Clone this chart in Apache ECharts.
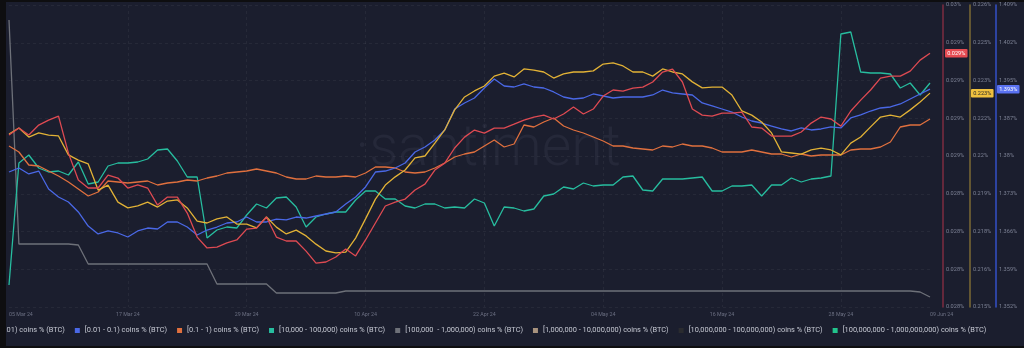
<!DOCTYPE html>
<html><head><meta charset="utf-8">
<script src="https://cdn.jsdelivr.net/npm/echarts@6/dist/echarts.min.js"></script>
<style>
html,body{margin:0;padding:0;background:#0e0e10;width:1024px;height:348px;overflow:hidden}
#c{position:absolute;left:6px;top:2px;width:1018px;height:344px;background:#1b1e2e}
</style></head><body><div id="c"></div>
<script>
const dates = ['2024-03-05','2024-03-06','2024-03-07','2024-03-08','2024-03-09','2024-03-10','2024-03-11','2024-03-12','2024-03-13','2024-03-14','2024-03-15','2024-03-16','2024-03-17','2024-03-18','2024-03-19','2024-03-20','2024-03-21','2024-03-22','2024-03-23','2024-03-24','2024-03-25','2024-03-26','2024-03-27','2024-03-28','2024-03-29','2024-03-30','2024-03-31',
'2024-04-01','2024-04-02','2024-04-03','2024-04-04','2024-04-05','2024-04-06','2024-04-07','2024-04-08','2024-04-09','2024-04-10','2024-04-11','2024-04-12','2024-04-13','2024-04-14','2024-04-15','2024-04-16','2024-04-17','2024-04-18','2024-04-19','2024-04-20','2024-04-21','2024-04-22','2024-04-23','2024-04-24','2024-04-25','2024-04-26','2024-04-27','2024-04-28','2024-04-29','2024-04-30',
'2024-05-01','2024-05-02','2024-05-03','2024-05-04','2024-05-05','2024-05-06','2024-05-07','2024-05-08','2024-05-09','2024-05-10','2024-05-11','2024-05-12','2024-05-13','2024-05-14','2024-05-15','2024-05-16','2024-05-17','2024-05-18','2024-05-19','2024-05-20','2024-05-21','2024-05-22','2024-05-23','2024-05-24','2024-05-25','2024-05-26','2024-05-27','2024-05-28','2024-05-29','2024-05-30','2024-05-31',
'2024-06-01','2024-06-02','2024-06-03','2024-06-04','2024-06-05','2024-06-06'];

const xTickLabels = ['05 Mar 24','17 Mar 24','29 Mar 24','10 Apr 24','22 Apr 24','04 May 24','16 May 24','28 May 24','09 Jun 24'];

// [0 - 0.001) coins %  (red axis)
const red = [0.028739,0.028785,0.028739,0.028805,0.028838,0.028864,0.028619,0.028441,0.028388,0.028388,
0.028474,0.028454,0.028388,0.028408,0.028388,0.028275,0.028328,0.028328,0.028222,0.028063,
0.027991,0.027997,0.028024,0.028044,0.028116,0.028123,0.028196,0.028063,0.028037,0.028037,
0.027970,0.027891,0.027898,0.027931,0.027984,0.027938,0.028044,0.028156,0.028269,0.028295,
0.028315,0.028375,0.028414,0.028507,0.028553,0.028653,0.028725,0.028772,0.028752,0.028785,
0.028785,0.028811,0.028838,0.028858,0.028871,0.028845,0.028878,0.028924,0.028878,0.028911,
0.028997,0.029037,0.029030,0.029050,0.029056,0.029090,0.029156,0.029176,0.029090,0.028911,
0.028871,0.028864,0.028884,0.028884,0.028891,0.028792,0.028785,0.028732,0.028732,0.028732,
0.028759,0.028818,0.028858,0.028845,0.028798,0.028898,0.028970,0.029037,0.029116,0.029129,
0.029129,0.029162,0.029235,0.029281];

// [0.001 - 0.01) coins % (gold axis)
const gold = [0.22130,0.22152,0.22119,0.22134,0.22126,0.22123,0.22054,0.22035,0.22021,0.21926,
0.21944,0.21882,0.21861,0.21868,0.21882,0.21864,0.21886,0.21890,0.21861,0.21813,
0.21806,0.21821,0.21828,0.21802,0.21802,0.21788,0.21828,0.21791,0.21766,0.21780,
0.21759,0.21729,0.21704,0.21697,0.21700,0.21751,0.21821,0.21893,0.21944,0.21974,
0.21999,0.22043,0.22050,0.22097,0.22145,0.22218,0.22265,0.22287,0.22305,0.22341,
0.22352,0.22338,0.22367,0.22363,0.22356,0.22334,0.22349,0.22356,0.22356,0.22360,
0.22385,0.22389,0.22378,0.22356,0.22356,0.22341,0.22367,0.22356,0.22349,0.22320,
0.22298,0.22301,0.22301,0.22272,0.22214,0.22199,0.22174,0.22134,0.22065,0.22061,
0.22057,0.22072,0.22079,0.22072,0.22054,0.22097,0.22119,0.22156,0.22192,0.22199,
0.22192,0.22218,0.22247,0.22279];

// [0.01 - 0.1) coins % (blue axis)
const blue = [1.37733,1.37809,1.37696,1.37752,1.37412,1.37261,1.37166,1.36977,1.36712,1.36561,
1.36618,1.36580,1.36504,1.36618,1.36674,1.36655,1.36788,1.36788,1.36693,1.36542,
1.36636,1.36693,1.36769,1.36788,1.36882,1.36788,1.36788,1.36844,1.36826,1.36882,
1.36863,1.36901,1.36939,1.36977,1.37128,1.37261,1.37450,1.37733,1.37752,1.37809,
1.37904,1.38112,1.38206,1.38339,1.38528,1.38925,1.39039,1.39133,1.39322,1.39492,
1.39360,1.39341,1.39398,1.39341,1.39322,1.39247,1.39152,1.39114,1.39133,1.39209,
1.39171,1.39133,1.39152,1.39152,1.39152,1.39190,1.39284,1.39228,1.39209,1.39190,
1.39039,1.38982,1.38925,1.38868,1.38774,1.38698,1.38660,1.38603,1.38547,1.38509,
1.38566,1.38528,1.38547,1.38585,1.38566,1.38755,1.38812,1.38887,1.38944,1.38963,
1.39020,1.39114,1.39209,1.39300];

// [0.1 - 1) coins %
const orange = [2.661,2.655,2.642,2.641,2.636,2.631,2.625,2.618,2.611,2.615,
2.626,2.625,2.624,2.625,2.626,2.622,2.624,2.625,2.627,2.626,
2.629,2.631,2.634,2.635,2.636,2.638,2.636,2.634,2.630,2.628,
2.628,2.631,2.630,2.630,2.631,2.630,2.634,2.640,2.640,2.639,
2.635,2.634,2.635,2.639,2.644,2.650,2.653,2.655,2.661,2.667,
2.660,2.663,2.682,2.680,2.685,2.689,2.681,2.677,2.674,2.670,
2.666,2.661,2.661,2.659,2.658,2.657,2.661,2.660,2.663,2.661,
2.661,2.659,2.655,2.655,2.655,2.657,2.655,2.653,2.653,2.650,
2.653,2.651,2.652,2.652,2.652,2.657,2.658,2.658,2.660,2.665,
2.680,2.682,2.682,2.688];

// [10,000 - 100,000) coins %
const teal = [12.22,13.44,13.52,13.39,13.35,13.36,13.32,13.45,13.23,13.25,
13.41,13.44,13.44,13.45,13.48,13.57,13.58,13.46,13.30,13.30,
12.69,12.77,12.80,12.79,12.92,13.03,12.99,13.09,13.10,13.00,
12.80,12.90,12.93,12.95,12.95,13.07,13.16,13.16,13.08,13.08,
13.01,12.99,13.03,13.03,12.99,13.00,12.99,13.08,13.04,12.81,
13.00,12.99,12.96,12.98,13.11,13.13,13.20,13.18,13.24,13.21,
13.22,13.22,13.30,13.31,13.17,13.16,13.28,13.28,13.28,13.29,
13.30,13.16,13.16,13.21,13.21,13.22,13.11,13.22,13.22,13.29,
13.25,13.28,13.29,13.31,14.73,14.75,14.35,14.34,14.34,14.33,
14.19,14.24,14.12,14.24];

// [100,000 - 1,000,000) coins %
const gray = [2.287,2.063,2.063,2.063,2.063,2.063,2.063,2.062,2.043,2.043,
2.043,2.043,2.043,2.043,2.043,2.043,2.043,2.043,2.043,2.043,
2.043,2.023,2.023,2.023,2.023,2.023,2.023,2.014,2.014,2.014,
2.014,2.014,2.014,2.014,2.016,2.016,2.016,2.016,2.016,2.016,
2.016,2.016,2.016,2.016,2.016,2.016,2.016,2.016,2.016,2.016,
2.016,2.016,2.016,2.016,2.016,2.016,2.016,2.016,2.016,2.016,
2.016,2.016,2.016,2.016,2.016,2.016,2.016,2.016,2.016,2.016,
2.016,2.016,2.016,2.016,2.016,2.016,2.016,2.016,2.016,2.016,
2.016,2.016,2.016,2.016,2.016,2.016,2.016,2.016,2.016,2.016,
2.016,2.016,2.015,2.010];

const redTicks  = ['0.028%','0.028%','0.028%','0.028%','0.029%','0.029%','0.029%','0.029%','0.03%'];
const goldTicks = ['0.215%','0.216%','0.218%','0.219%','0.22%','0.222%','0.223%','0.225%','0.226%'];
const blueTicks = ['1.352%','1.359%','1.366%','1.373%','1.38%','1.387%','1.395%','1.402%','1.409%'];
const redRange  = [0.0276, 0.0296];
const goldRange = [0.215, 0.226];
const blueRange = [1.3518, 1.40892];

const names = [
  '[0 - 0.001) coins % (BTC)',
  '[0.001 - 0.01) coins % (BTC)',
  '[0.01 - 0.1) coins % (BTC)',
  '[0.1 - 1) coins % (BTC)',
  '[10,000 - 100,000) coins % (BTC)',
  '[100,000  - 1,000,000) coins % (BTC)',
  '[1,000,000 - 10,000,000) coins % (BTC)',
  '[10,000,000 - 100,000,000) coins % (BTC)',
  '[100,000,000 - 1,000,000,000) coins % (BTC)'
];
const colors = ['#de4a52','#e2b236','#4a68e6','#e0703e','#27bd9f','#6e7179','#a8937e','#2a2b2f','#22c48c'];

const FONT = 'Roboto, "Noto Sans", sans-serif';
const N = 8;
function tickValues(r){ const a=[]; for(let k=0;k<=N;k++) a.push(r[0]+(r[1]-r[0])*k/N); return a; }
function tickFormatter(r, labels){ return v => labels[Math.round((v-r[0])/((r[1]-r[0])/N))] || ''; }

function visAxis(r, labels, offset, lineColor){
  return {
    type:'value', position:'right', offset:offset, min:r[0], max:r[1],
    axisLine:{show:true, lineStyle:{color:lineColor, width:1.5}},
    axisTick:{show:false}, splitLine:{show:false},
    axisLabel:{customValues:tickValues(r), formatter:tickFormatter(r, labels), color:'#7c8194', fontSize:5.6, margin:3, fontFamily:FONT, showMinLabel:true, showMaxLabel:true}
  };
}
function hidAxis(min,max){ return {type:'value', show:false, min:min, max:max, splitLine:{show:false}}; }

function badge(dist, bg, fg){
  return {show:true, distance:dist, formatter:p=>p.value.toFixed(3)+'%', backgroundColor:bg, color:fg,
    fontSize:5.6, fontFamily:FONT, padding:[1.5,2.2,1,2.2], borderRadius:1};
}
function line(idx, data, axis, endLabel){
  const s = {name:names[idx], type:'line', data:data, yAxisIndex:axis, showSymbol:false, symbol:'none',
    lineStyle:{color:colors[idx], width:1.3}, itemStyle:{color:colors[idx]}, animation:false, silent:true};
  if(endLabel) s.endLabel = endLabel;
  return s;
}

const chart = echarts.init(document.getElementById('c'), null, {renderer:'canvas'});
chart.setOption({
  backgroundColor:'transparent',
  animation:false,
  grid:{left:0, right:94, top:3, bottom:39, containLabel:false},
  graphic:[{type:'text', z:0, style:{text:'·santiment·', x:489, y:149, textAlign:'center', textVerticalAlign:'middle',
    font:'300 57px Roboto, sans-serif', fill:'#252839'}}],
  legend:{
    left:-142, top:325, width:1400, padding:0, itemGap:10, itemWidth:5, itemHeight:5, icon:'rect',
    textStyle:{color:'#c6c9d3', fontSize:7.4, fontFamily:FONT},
    data:names.map((n,i)=>({name:n, itemStyle:{color:colors[i]}}))
  },
  xAxis:{type:'category', data:dates, boundaryGap:false,
    axisLine:{show:false}, axisTick:{show:false},
    axisLabel:{interval:(i)=> i%12===0 || i===dates.length-1, color:'#6c7083', fontSize:5.3, margin:5.5, fontFamily:FONT,
      alignMinLabel:'left', alignMaxLabel:'left', showMaxLabel:true, hideOverlap:false,
      formatter:(v,i)=> i===dates.length-1 ? xTickLabels[xTickLabels.length-1] : (xTickLabels[i/12]||'')},
    splitLine:{show:true, interval:(i)=> i%12===0 && i>0 && i<dates.length-1, lineStyle:{color:'rgba(255,255,255,0.05)', type:[3,3]}}
  },
  yAxis:[
    {type:'value', min:0, max:N, interval:1, position:'left', axisLine:{show:false}, axisTick:{show:false}, axisLabel:{show:false},
      splitLine:{show:true, lineStyle:{color:'rgba(255,255,255,0.05)', type:[3,3]}}},
    visAxis(redRange, redTicks, 13, '#7e2c40'),
    visAxis(goldRange, goldTicks, 40, '#7c6a34'),
    visAxis(blueRange, blueTicks, 66, '#3550c8'),
    hidAxis(2.5, 2.802),
    hidAxis(12.0, 15.02),
    hidAxis(2.0, 2.302)
  ],
  series:[
    line(5, gray, 6),
    line(4, teal, 5),
    line(3, orange, 4),
    line(2, blue, 3, badge(67, '#5a72f2', '#ffffff')),
    line(1, gold, 2, badge(41, '#efc03e', '#2a2a2a')),
    line(0, red, 1, badge(15, '#e64b52', '#ffffff')),
    line(6, [], 0), line(7, [], 0), line(8, [], 0)
  ]
});
</script></body></html>
